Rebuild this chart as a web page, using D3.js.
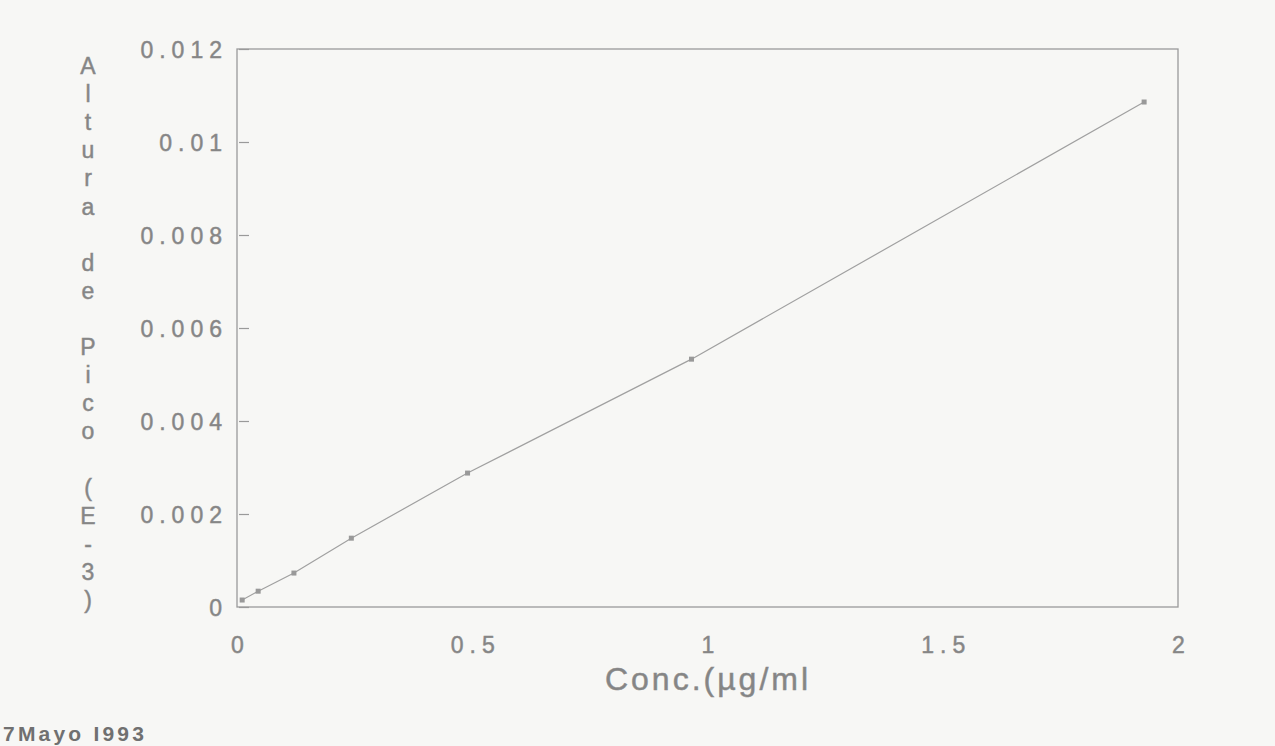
<!DOCTYPE html>
<html>
<head>
<meta charset="utf-8">
<script src="https://cdn.jsdelivr.net/npm/d3@7"></script>
<style>
  html, body { margin: 0; padding: 0; background: #f7f7f5; }
  svg { display: block; }
  text { font-family: "Liberation Sans", Arial, sans-serif; fill: #858585; stroke: #8c8c8c; stroke-width: 0.5px; }
</style>
</head>
<body>
<div id="chart"></div>
<script>
// data
const conc = [0.011, 0.045, 0.121, 0.243, 0.49, 0.966, 1.928];
const altura = [0.00015, 0.00034, 0.00073, 0.00148, 0.00288, 0.00533, 0.01086];

const xTicks = [0, 0.5, 1, 1.5, 2];
const xTickLabels = ["0", "0.5", "1", "1.5", "2"];
const yTicks = [0, 0.002, 0.004, 0.006, 0.008, 0.01, 0.012];
const yTickLabels = ["0", "0.002", "0.004", "0.006", "0.008", "0.01", "0.012"];

const xTitle = "Conc.(µg/ml";
const yTitleWords = ["Altura", "de", "Pico", "(E-3)"];
const footNote = "7Mayo I993";

const width = 1275, height = 746;
const margin = {top: 49, right: 97, bottom: 139, left: 237};

const svg = d3.select("#chart").append("svg")
    .attr("width", width)
    .attr("height", height);

const x = d3.scaleLinear().domain([0, 2]).range([margin.left, width - margin.right]);
const y = d3.scaleLinear().domain([0, 0.012]).range([height - margin.bottom, margin.top]);

// frame
svg.append("rect")
    .attr("x", x(0))
    .attr("y", y(0.012))
    .attr("width", x(2) - x(0))
    .attr("height", y(0) - y(0.012))
    .attr("fill", "none")
    .attr("stroke", "#9a9a9a")
    .attr("stroke-width", 1.3);

// y axis, ticks pointing inward
svg.append("g")
    .attr("transform", `translate(${x(0) + 2},0)`)
    .call(d3.axisLeft(y)
        .tickValues(yTicks)
        .tickFormat((d, i) => yTickLabels[i])
        .tickSizeInner(-10)
        .tickSizeOuter(0)
        .tickPadding(11))
    .call(g => g.select(".domain").remove())
    .call(g => g.selectAll(".tick line").attr("stroke", "#9a9a9a").attr("stroke-width", 1.2))
    .call(g => g.selectAll(".tick text")
        .attr("fill", "#858585")
        .attr("dy", "0.38em")
        .style("font-size", "23px")
        .style("letter-spacing", "6px")
        .style("font-family", "Liberation Sans, Arial, sans-serif"));

// x axis labels
svg.append("g")
    .attr("transform", `translate(3,${y(0)})`)
    .call(d3.axisBottom(x)
        .tickValues(xTicks)
        .tickFormat((d, i) => xTickLabels[i])
        .tickSize(0)
        .tickPadding(30))
    .call(g => g.select(".domain").remove())
    .call(g => g.selectAll(".tick text")
        .attr("fill", "#858585")
        .style("font-size", "23px")
        .style("letter-spacing", "6px")
        .style("font-family", "Liberation Sans, Arial, sans-serif"));

// curve
const pts = conc.map((c, i) => [c, altura[i]]);
svg.append("path")
    .datum(pts)
    .attr("fill", "none")
    .attr("stroke", "#a0a0a0")
    .attr("stroke-width", 1.2)
    .attr("d", d3.line().x(d => x(d[0])).y(d => y(d[1])));

svg.append("g")
    .selectAll("rect")
    .data(pts)
    .join("rect")
    .attr("x", d => x(d[0]) - 2.5)
    .attr("y", d => y(d[1]) - 2.5)
    .attr("width", 5)
    .attr("height", 5)
    .attr("fill", "#999");

// x title
svg.append("text")
    .attr("x", 708)
    .attr("y", 690)
    .attr("text-anchor", "middle")
    .style("font-size", "32px")
    .style("letter-spacing", "3px")
    .text(xTitle);

// y title, one letter per line
const yTitle = svg.append("text")
    .attr("text-anchor", "middle")
    .style("font-size", "23px");
let slot = 0;
yTitleWords.forEach(w => {
  for (const ch of w) {
    yTitle.append("tspan")
        .attr("x", 88)
        .attr("y", 74 + slot * 28.1)
        .text(ch);
    slot++;
  }
  slot++;
});

// date stamp
svg.append("text")
    .attr("x", 3)
    .attr("y", 741)
    .style("fill", "#707070")
    .style("stroke", "none")
    .style("font-size", "21px")
    .style("font-weight", "bold")
    .style("letter-spacing", "3.2px")
    .text(footNote);
</script>
</body>
</html>
